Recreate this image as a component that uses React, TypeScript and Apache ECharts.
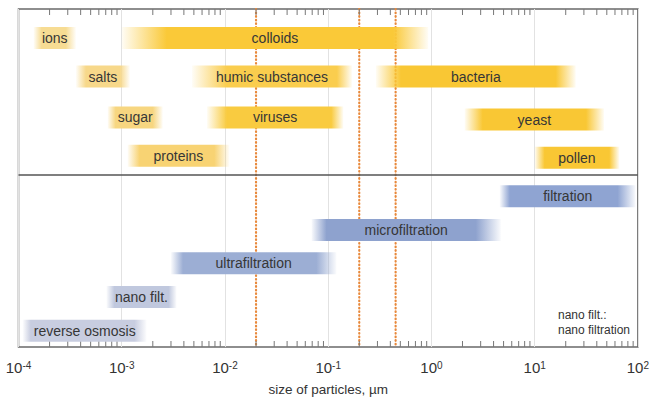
import React, { useEffect, useRef } from "react";
import * as echarts from "echarts";

// particle classes (µm)
const particleNames = ["ions", "colloids", "salts", "humic substances", "bacteria", "sugar", "viruses", "yeast", "proteins", "pollen"];
const particleFrom = [1.4e-4, 1.0e-3, 3.6e-4, 4.8e-3, 0.29, 7.3e-4, 6.7e-3, 2.1, 1.14e-3, 10];
const particleTo = [3.6e-4, 0.93, 1.2e-3, 0.17, 25, 2.5e-3, 0.14, 47, 0.011, 66];
const particleRow = [0.86, 0.86, 2.0, 2.0, 2.0, 3.21, 3.21, 3.27, 4.34, 4.4];

// separation processes (µm)
const processNames = ["filtration", "microfiltration", "ultrafiltration", "nano filt.", "reverse osmosis"];
const processFrom = [4.6, 0.069, 3.0e-3, 7.1e-4, 1.1e-4];
const processTo = [95, 4.7, 0.12, 3.4e-3, 1.74e-3];
const processRow = [5.54, 6.54, 7.52, 8.52, 9.52];

// dotted reference sizes (µm)
const markerSizes = [0.02, 0.2, 0.45];
const sectionDivider = [4.91];

// axis
const decadeExponents = [-4, -3, -2, -1, 0, 1, 2];
const minorMultipliers = [2, 3, 4, 5, 6, 7, 8, 9];

// styles (kept apart from data)
const barStyle: Record<string, { rgb: number[]; fadeL: number; fadeR: number }> = {
  "ions": { rgb: [247, 220, 147], fadeL: 8, fadeR: 10 },
  "colloids": { rgb: [250, 201, 56], fadeL: 45, fadeR: 35 },
  "salts": { rgb: [247, 216, 138], fadeL: 10, fadeR: 10 },
  "humic substances": { rgb: [250, 205, 78], fadeL: 35, fadeR: 15 },
  "bacteria": { rgb: [249, 199, 52], fadeL: 25, fadeR: 20 },
  "sugar": { rgb: [247, 214, 128], fadeL: 8, fadeR: 10 },
  "viruses": { rgb: [249, 203, 64], fadeL: 20, fadeR: 12 },
  "yeast": { rgb: [249, 199, 52], fadeL: 18, fadeR: 18 },
  "proteins": { rgb: [248, 211, 115], fadeL: 12, fadeR: 15 },
  "pollen": { rgb: [249, 199, 52], fadeL: 10, fadeR: 10 },
  "filtration": { rgb: [143, 164, 210], fadeL: 10, fadeR: 18 },
  "microfiltration": { rgb: [142, 162, 206], fadeL: 15, fadeR: 25 },
  "ultrafiltration": { rgb: [156, 174, 212], fadeL: 12, fadeR: 20 },
  "nano filt.": { rgb: [192, 200, 222], fadeL: 8, fadeR: 8 },
  "reverse osmosis": { rgb: [200, 205, 224], fadeL: 8, fadeR: 12 },
};

const FONT = "'Liberation Sans', Arial, Helvetica, sans-serif";
const BAR_H = 22;

function barSeries(names: string[], from: number[], to: number[], rows: number[]) {
  return {
    type: "custom",
    z: 3,
    data: names.map((_, i) => [Math.log10(from[i]), Math.log10(to[i]), rows[i]]),
    renderItem: (params: any, api: any) => {
      const name = names[params.dataIndex];
      const st = barStyle[name];
      const p0 = api.coord([api.value(0), api.value(2)]);
      const p1 = api.coord([api.value(1), api.value(2)]);
      const w = p1[0] - p0[0];
      const [r, g, b] = st.rgb;
      const solid = `rgba(${r},${g},${b},1)`;
      const clear = `rgba(${r},${g},${b},0.05)`;
      const fl = Math.min(0.45, st.fadeL / w);
      const fr = Math.min(0.45, st.fadeR / w);
      const fill = new echarts.graphic.LinearGradient(0, 0, 1, 0, [
        { offset: 0, color: clear },
        { offset: fl, color: solid },
        { offset: 1 - fr, color: solid },
        { offset: 1, color: clear },
      ]);
      return {
        type: "group",
        children: [
          { type: "rect", shape: { x: p0[0], y: p0[1] - BAR_H / 2, width: w, height: BAR_H }, style: { fill } },
          {
            type: "text",
            x: (p0[0] + p1[0]) / 2,
            y: p0[1],
            style: { text: name, fill: "#363636", fontSize: 14, fontFamily: FONT, align: "center", verticalAlign: "middle" },
          },
        ],
      };
    },
  };
}

export default function App() {
  const ref = useRef<HTMLDivElement>(null);
  useEffect(() => {
    document.body.style.margin = "0";
    const chart = echarts.init(ref.current!, null, { renderer: "svg" });
    const minorTicks: number[] = [];
    decadeExponents.slice(0, -1).forEach((e) => minorMultipliers.forEach((m) => minorTicks.push(Math.log10(m) + e)));

    chart.setOption({
      animation: false,
      grid: { left: 18.5, right: 11.5, top: 9, bottom: 53, show: true, borderColor: "#6a6a6a", borderWidth: 1.5, backgroundColor: "transparent" },
      xAxis: {
        type: "value",
        min: -4,
        max: 2,
        interval: 1,
        axisLine: { show: false },
        axisTick: { show: false },
        splitLine: { show: true, lineStyle: { color: "#e2e2e2", width: 1 } },
        axisLabel: {
          margin: 13,
          formatter: (v: number) => `{b|10}{s|${v}}`,
          rich: {
            b: { fontSize: 15, color: "#333", fontFamily: FONT },
            s: { fontSize: 10, color: "#333", fontFamily: FONT, verticalAlign: "top", padding: [0, 0, 4, 0] },
          },
        },
        name: "size of particles, µm",
        nameLocation: "middle",
        nameGap: 35,
        nameTextStyle: { fontSize: 13.5, color: "#333", fontFamily: FONT },
      },
      yAxis: { type: "value", inverse: true, min: 0, max: 10, show: false, splitLine: { show: false } },
      graphic: [
        {
          type: "text",
          left: 558,
          top: 307,
          style: { text: "nano filt.:\nnano filtration", fill: "#333", fontSize: 12, fontFamily: FONT, lineHeight: 15 },
        },
      ],
      series: [
        {
          type: "custom",
          z: 1,
          data: markerSizes.map((v) => [Math.log10(v)]),
          renderItem: (params: any, api: any) => {
            const a = api.coord([api.value(0), 0]);
            const b = api.coord([api.value(0), 10]);
            return {
              type: "line",
              shape: { x1: a[0], y1: a[1], x2: b[0], y2: b[1] },
              style: { stroke: "#E8893C", lineWidth: 2.2, lineDash: [0.6, 3], lineCap: "round" },
            };
          },
        },
        {
          type: "custom",
          z: 2,
          data: sectionDivider.map((v) => [v]),
          renderItem: (params: any, api: any) => {
            const a = api.coord([-4, api.value(0)]);
            const b = api.coord([2, api.value(0)]);
            return { type: "line", shape: { x1: a[0], y1: a[1], x2: b[0], y2: b[1] }, style: { stroke: "#555", lineWidth: 1.5 } };
          },
        },
        {
          type: "custom",
          z: 2,
          data: minorTicks.map((v) => [v]),
          renderItem: (params: any, api: any) => {
            const t = api.coord([api.value(0), 0]);
            const b = api.coord([api.value(0), 10]);
            return {
              type: "group",
              children: [
                { type: "line", shape: { x1: t[0], y1: t[1], x2: t[0], y2: t[1] + 6 }, style: { stroke: "#777", lineWidth: 1 } },
                { type: "line", shape: { x1: b[0], y1: b[1], x2: b[0], y2: b[1] - 6 }, style: { stroke: "#777", lineWidth: 1 } },
              ],
            };
          },
        },
        barSeries(particleNames, particleFrom, particleTo, particleRow),
        barSeries(processNames, processFrom, processTo, processRow),
      ],
    });
    return () => chart.dispose();
  }, []);
  return <div ref={ref} style={{ width: 652, height: 401 }} />;
}
